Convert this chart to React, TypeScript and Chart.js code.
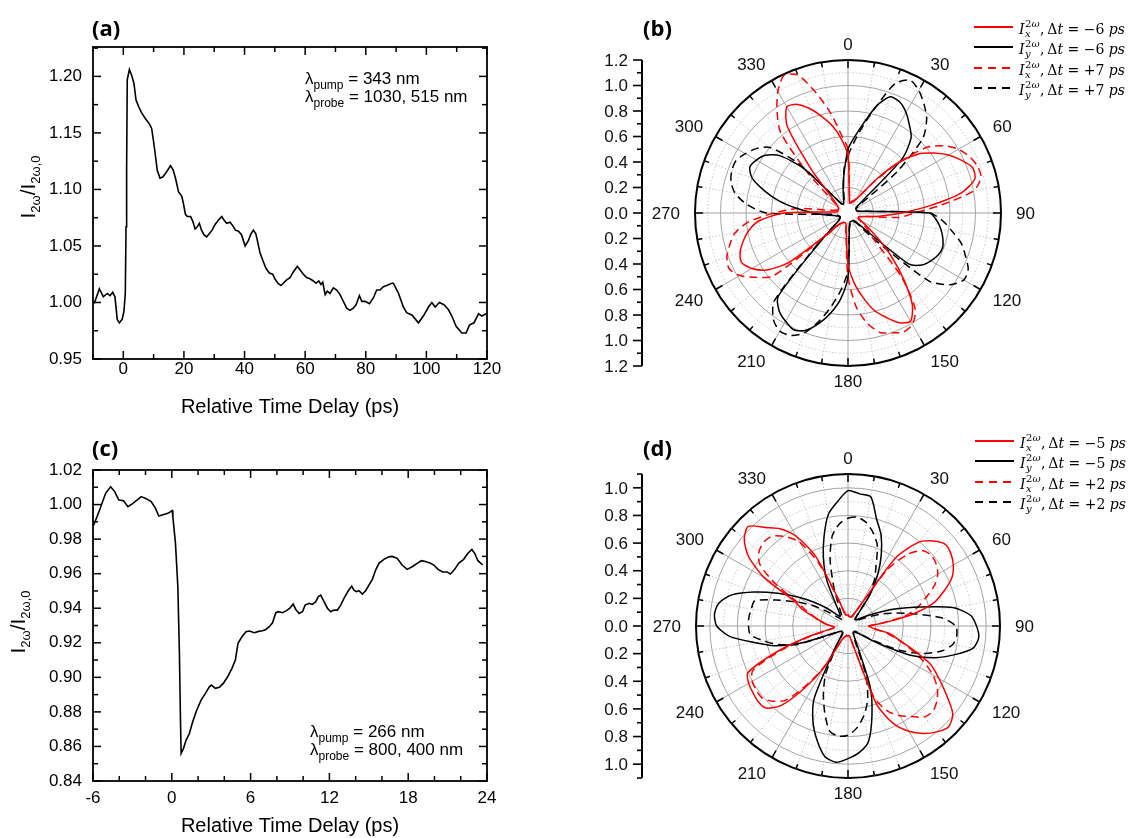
import React, { useEffect, useRef } from 'react';
import { Chart, registerables } from 'chart.js';

Chart.register(...registerables);

const SANS = '"Liberation Sans", Arial, sans-serif';
const SERIF = '"DejaVu Serif", serif';
const BOLD = '"Open Sans", "Noto Sans", sans-serif';

// ---------------- Panel (a) data ----------------
const timeA = [
  -9.6, -7.9, -6.6, -5.3, -4.4, -3.5, -2.75, -2.0, -1.3, -0.4, 0.2, 0.66, 0.9, 1.1, 1.3, 2.0, 2.75, 3.5, 4.2, 5.1,
  6.0, 7.2, 8.6, 9.35, 9.9, 10.5, 11.2, 12.1, 13.0, 13.9, 14.6, 15.6, 16.5, 17.3, 18.2, 19.3, 19.8, 20.5, 21.1, 22.2,
  22.9, 23.7, 24.4, 25.1, 25.8, 26.6, 27.5, 28.4, 29.3, 30.3, 31.4, 32.5, 33.2, 34.1, 35.2, 36.1, 37.0, 38.0, 39.0, 40.2,
  41.3, 42.0, 42.9, 43.7, 44.3, 45.1, 46.2, 47.1, 48.2, 49.3, 50.0, 51.0, 52.0, 52.8, 53.9, 55.0, 56.1, 57.4, 58.3, 59.4,
  60.5, 61.6, 62.7, 63.6, 64.5, 65.2, 65.8, 66.6, 67.3, 68.2, 69.3, 70.4, 71.5, 72.6, 73.7, 74.8, 75.9, 76.8, 77.9, 78.7,
  79.8, 81.2, 82.5, 83.6, 84.7, 85.8, 86.9, 88.6, 89.1, 90.8, 92.4, 93.5, 95.2, 97.4, 99.0, 100.7, 101.8, 102.9, 104.3, 105.8,
  107.3, 108.4, 109.8, 111.7, 113.1, 114.2, 115.7, 117.2, 118.3, 119.7,
];
const ratioA = [
  0.999, 1.012, 1.005, 1.008, 1.006, 1.009, 1.005, 0.985, 0.982, 0.985, 0.992, 1.008, 1.067, 1.12, 1.197, 1.206, 1.201, 1.194, 1.179, 1.173,
  1.168, 1.163, 1.158, 1.154, 1.144, 1.132, 1.117, 1.110, 1.111, 1.114, 1.117, 1.121, 1.117, 1.109, 1.098, 1.094, 1.088, 1.078, 1.076, 1.076,
  1.072, 1.065, 1.067, 1.070, 1.064, 1.060, 1.058, 1.061, 1.064, 1.069, 1.073, 1.076, 1.073, 1.070, 1.071, 1.068, 1.064, 1.063, 1.060, 1.050,
  1.055, 1.060, 1.064, 1.061, 1.054, 1.044, 1.036, 1.030, 1.026, 1.025, 1.021, 1.017, 1.015, 1.017, 1.020, 1.022, 1.027, 1.032, 1.029, 1.025,
  1.022, 1.021, 1.019, 1.017, 1.019, 1.016, 1.018, 1.007, 1.010, 1.008, 1.013, 1.011, 1.007, 1.001, 0.995, 0.993, 0.995, 0.998, 1.006, 1.001,
  1.001, 0.999, 1.004, 1.011, 1.011, 1.014, 1.015, 1.017, 1.017, 1.008, 0.996, 0.991, 0.989, 0.982, 0.988, 0.996, 1.000, 0.996, 1.000, 0.998,
  0.9935, 0.988, 0.979, 0.973, 0.973, 0.980, 0.982, 0.990, 0.988, 0.990,
];
const xTicksA = [0, 20, 40, 60, 80, 100, 120];
const yTicksA = [0.95, 1.0, 1.05, 1.1, 1.15, 1.2];

// ---------------- Panel (c) data ----------------
const timeC = [
  -5.95, -5.49, -5.04, -4.66, -4.35, -4.03, -3.67, -3.34, -2.96, -2.33, -1.95, -1.57, -1.24, -0.99, -0.61, -0.3, 0.03, 0.08, 0.28, 0.46,
  0.58, 0.66, 0.71, 0.89, 1.09, 1.34, 1.59, 1.9, 2.23, 2.56, 2.86, 3.01, 3.32, 3.62, 3.92, 4.25, 4.58, 4.84, 5.04, 5.34,
  5.65, 5.9, 6.28, 6.61, 6.91, 7.16, 7.42, 7.67, 7.92, 8.13, 8.43, 8.73, 8.99, 9.24, 9.44, 9.7, 9.95, 10.15, 10.46, 10.71,
  10.96, 11.16, 11.34, 11.59, 11.85, 12.1, 12.35, 12.61, 12.86, 13.11, 13.44, 13.7, 13.87, 14.05, 14.25, 14.51, 14.76, 15.01, 15.27, 15.52,
  15.77, 16.15, 16.53, 16.78, 17.16, 17.54, 17.92, 18.3, 18.68, 19.01, 19.31, 19.7, 19.95, 20.27, 20.63, 20.95, 21.21, 21.54, 21.84, 22.22,
  22.55, 22.85, 23.06, 23.31, 23.67,
];
const ratioC = [
  0.988, 0.997, 1.0065, 1.0103, 1.0075, 1.0026, 1.0022, 0.9988, 1.0007, 1.0046, 1.0034, 1.0017, 0.9978, 0.9934, 0.9943, 0.9949, 0.9965, 0.993, 0.9775, 0.9525,
  0.914, 0.8753, 0.856, 0.8589, 0.8637, 0.8675, 0.8743, 0.881, 0.8868, 0.8907, 0.8945, 0.8955, 0.8936, 0.8942, 0.8965, 0.9003, 0.9052, 0.91, 0.9197, 0.9235,
  0.9264, 0.9268, 0.9258, 0.9266, 0.927, 0.9277, 0.9293, 0.9316, 0.9374, 0.938, 0.9374, 0.9386, 0.94, 0.9424, 0.9393, 0.937, 0.938, 0.9418, 0.9428, 0.9422,
  0.9438, 0.9467, 0.9476, 0.9438, 0.94, 0.938, 0.9389, 0.9389, 0.9418, 0.9457, 0.9501, 0.9528, 0.9505, 0.9496, 0.9501, 0.9482, 0.9501, 0.9534, 0.9567, 0.9621,
  0.966, 0.9683, 0.9698, 0.97, 0.9689, 0.965, 0.9625, 0.964, 0.966, 0.9675, 0.967, 0.966, 0.965, 0.9625, 0.961, 0.961, 0.9598, 0.9625, 0.966, 0.9683,
  0.9718, 0.974, 0.9718, 0.9675, 0.965,
];
const xTicksC = [-6, 0, 6, 12, 18, 24];
const yTicksC = [0.84, 0.86, 0.88, 0.9, 0.92, 0.94, 0.96, 0.98, 1.0, 1.02];

// ---------------- Polar data (angles in degrees, clockwise from top) ----------------
const ANGLES = [
  0, 5, 10, 15, 20, 25, 30, 35, 40, 45, 50, 55, 60, 65, 70, 75, 80, 85, 90, 95, 100, 105, 110, 115,
  120, 125, 130, 135, 140, 145, 150, 155, 160, 165, 170, 175, 180, 185, 190, 195, 200, 205, 210, 215, 220, 225, 230, 235,
  240, 245, 250, 255, 260, 265, 270, 275, 280, 285, 290, 295, 300, 305, 310, 315, 320, 325, 330, 335, 340, 345, 350, 355,
];
const angleLabels = [0, 30, 60, 90, 120, 150, 180, 210, 240, 270, 300, 330];

// (b) I_x, dt = -6 ps
const rxB_m6 = [
  0.45, 0.12, 0.08, 0.08, 0.09, 0.10, 0.12, 0.17, 0.34, 0.56, 0.72, 0.82,
  0.91, 0.98, 1.04, 1.03, 0.90, 0.64, 0.42, 0.26, 0.16, 0.11, 0.09, 0.09,
  0.11, 0.18, 0.30, 0.48, 0.68, 0.88, 0.98, 0.95, 0.87, 0.79, 0.67, 0.55,
  0.40, 0.16, 0.09, 0.08, 0.08, 0.08, 0.09, 0.10, 0.13, 0.25, 0.60, 0.78,
  0.87, 0.92, 0.90, 0.85, 0.79, 0.70, 0.50, 0.10, 0.08, 0.08, 0.08, 0.08,
  0.09, 0.10, 0.13, 0.20, 0.45, 0.83, 0.96, 0.94, 0.87, 0.78, 0.69, 0.58,
];
// (b) I_y, dt = -6 ps
const ryB_m6 = [
  0.50, 0.60, 0.72, 0.87, 0.97, 0.96, 0.91, 0.84, 0.77, 0.60, 0.15, 0.08,
  0.07, 0.07, 0.07, 0.07, 0.08, 0.15, 0.64, 0.70, 0.74, 0.77, 0.79, 0.78,
  0.75, 0.71, 0.62, 0.15, 0.08, 0.07, 0.07, 0.07, 0.07, 0.07, 0.08, 0.12,
  0.50, 0.68, 0.80, 0.90, 0.98, 1.01, 0.98, 0.94, 0.85, 0.25, 0.10, 0.08,
  0.07, 0.07, 0.07, 0.09, 0.11, 0.17, 0.27, 0.40, 0.55, 0.68, 0.80, 0.85,
  0.83, 0.79, 0.70, 0.50, 0.15, 0.09, 0.08, 0.08, 0.10, 0.14, 0.22, 0.33,
];
// (b) I_x, dt = +7 ps
const rxB_p7 = [
  0.50, 0.14, 0.09, 0.09, 0.10, 0.11, 0.13, 0.18, 0.32, 0.55, 0.80, 0.92,
  1.00, 1.05, 1.08, 1.08, 1.00, 0.74, 0.52, 0.40, 0.16, 0.10, 0.09, 0.09,
  0.10, 0.13, 0.20, 0.27, 0.65, 0.92, 1.01, 1.03, 1.00, 0.97, 0.88, 0.74,
  0.50, 0.18, 0.10, 0.08, 0.08, 0.08, 0.09, 0.10, 0.14, 0.30, 0.77, 0.88,
  0.98, 1.03, 1.01, 0.96, 0.90, 0.78, 0.58, 0.40, 0.12, 0.09, 0.09, 0.10,
  0.10, 0.11, 0.18, 0.45, 0.82, 0.97, 1.10, 1.19, 1.15, 0.98, 0.80, 0.62,
];
// (b) I_y, dt = +7 ps
const ryB_p7 = [
  0.45, 0.56, 0.70, 0.87, 1.08, 1.15, 1.11, 1.04, 0.96, 0.83, 0.50, 0.12,
  0.08, 0.07, 0.07, 0.07, 0.08, 0.15, 0.64, 0.75, 0.83, 0.92, 0.98, 1.04,
  1.05, 0.98, 0.83, 0.30, 0.10, 0.08, 0.07, 0.07, 0.07, 0.08, 0.09, 0.12,
  0.45, 0.60, 0.74, 0.88, 1.00, 1.06, 1.07, 1.02, 0.90, 0.30, 0.10, 0.08,
  0.07, 0.07, 0.08, 0.08, 0.09, 0.12, 0.64, 0.80, 0.90, 0.95, 0.97, 0.97,
  0.93, 0.88, 0.80, 0.55, 0.15, 0.09, 0.08, 0.08, 0.09, 0.12, 0.20, 0.35,
];
// (d) I_x, dt = -5 ps
const rxD_m5 = [
  0.08, 0.07, 0.07, 0.07, 0.07, 0.09, 0.15, 0.60, 0.79, 0.87, 0.92, 0.91,
  0.88, 0.83, 0.74, 0.64, 0.46, 0.26, 0.16, 0.18, 0.30, 0.38, 0.50, 0.66,
  0.76, 0.87, 0.99, 1.03, 1.00, 0.95, 0.88, 0.78, 0.60, 0.15, 0.08, 0.07,
  0.07, 0.07, 0.07, 0.08, 0.09, 0.12, 0.35, 0.55, 0.75, 0.84, 0.85, 0.84,
  0.83, 0.80, 0.55, 0.30, 0.13, 0.10, 0.12, 0.16, 0.20, 0.26, 0.35, 0.43,
  0.70, 0.88, 0.98, 1.02, 0.93, 0.86, 0.75, 0.56, 0.22, 0.10, 0.08, 0.08,
];
// (d) I_y, dt = -5 ps
const ryD_m5 = [
  0.98, 0.96, 0.95, 0.80, 0.70, 0.57, 0.43, 0.28, 0.11, 0.08, 0.07, 0.08,
  0.13, 0.22, 0.36, 0.53, 0.77, 0.89, 0.93, 0.95, 0.92, 0.80, 0.67, 0.50,
  0.25, 0.10, 0.07, 0.06, 0.06, 0.07, 0.09, 0.17, 0.47, 0.67, 0.85, 0.92,
  0.96, 0.99, 0.96, 0.86, 0.74, 0.58, 0.20, 0.08, 0.06, 0.06, 0.06, 0.07,
  0.09, 0.15, 0.36, 0.55, 0.69, 0.86, 0.95, 0.97, 0.95, 0.87, 0.72, 0.56,
  0.42, 0.30, 0.20, 0.12, 0.09, 0.10, 0.16, 0.36, 0.52, 0.67, 0.82, 0.90,
];
// (d) I_x, dt = +2 ps
const rxD_p2 = [
  0.08, 0.07, 0.07, 0.07, 0.07, 0.09, 0.15, 0.50, 0.68, 0.77, 0.79, 0.78,
  0.75, 0.69, 0.60, 0.52, 0.42, 0.25, 0.15, 0.17, 0.28, 0.37, 0.48, 0.60,
  0.71, 0.79, 0.84, 0.87, 0.86, 0.80, 0.75, 0.68, 0.55, 0.15, 0.08, 0.07,
  0.07, 0.07, 0.07, 0.08, 0.09, 0.12, 0.33, 0.52, 0.70, 0.77, 0.81, 0.81,
  0.80, 0.76, 0.52, 0.28, 0.12, 0.10, 0.12, 0.16, 0.20, 0.25, 0.32, 0.40,
  0.60, 0.78, 0.84, 0.86, 0.85, 0.79, 0.70, 0.50, 0.20, 0.10, 0.08, 0.08,
];
// (d) I_y, dt = +2 ps
const ryD_p2 = [
  0.78, 0.79, 0.76, 0.70, 0.62, 0.48, 0.38, 0.25, 0.11, 0.07, 0.06, 0.07,
  0.09, 0.15, 0.25, 0.36, 0.50, 0.68, 0.78, 0.79, 0.77, 0.70, 0.58, 0.42,
  0.20, 0.08, 0.06, 0.06, 0.06, 0.07, 0.08, 0.12, 0.38, 0.55, 0.66, 0.74,
  0.79, 0.80, 0.77, 0.65, 0.52, 0.38, 0.15, 0.07, 0.06, 0.06, 0.06, 0.07,
  0.09, 0.15, 0.39, 0.52, 0.62, 0.71, 0.72, 0.72, 0.71, 0.70, 0.55, 0.41,
  0.30, 0.18, 0.10, 0.07, 0.06, 0.07, 0.09, 0.15, 0.30, 0.50, 0.66, 0.74,
];
const barTicksB = [0, 0.2, 0.4, 0.6, 0.8, 1.0, 1.2];
const barTicksD = [0, 0.2, 0.4, 0.6, 0.8, 1.0];

// ---------------- drawing helpers ----------------
type Part = { t: string; font: string; dy?: number };

function drawParts(ctx: any, x: number, y: number, parts: Part[], align: 'left' | 'center' = 'left') {
  let w = 0;
  parts.forEach((p) => { ctx.font = p.font; w += ctx.measureText(p.t).width; });
  let cx = align === 'center' ? x - w / 2 : x;
  ctx.textAlign = 'left';
  ctx.textBaseline = 'alphabetic';
  parts.forEach((p) => { ctx.font = p.font; ctx.fillText(p.t, cx, y + (p.dy || 0)); cx += ctx.measureText(p.t).width; });
}

function line(ctx: any, x1: number, y1: number, x2: number, y2: number) {
  ctx.beginPath(); ctx.moveTo(x1, y1); ctx.lineTo(x2, y2); ctx.stroke();
}

function isMultiple(v: number, step: number) {
  const q = v / step;
  return Math.abs(q - Math.round(q)) < 1e-6;
}

// ---------------- cartesian panels ----------------
function cartesianDecor(c: any) {
  return {
    id: 'cartDecor',
    afterDraw(chart: any) {
      const { ctx, chartArea: a } = chart;
      const xs = chart.scales.x;
      const ys = chart.scales.y;
      ctx.save();
      ctx.strokeStyle = '#000';
      ctx.lineWidth = 1.8;
      ctx.strokeRect(a.left, a.top, a.right - a.left, a.bottom - a.top);
      ctx.lineWidth = 1.5;
      const nx = Math.round((c.xMax - c.xMin) / c.xMinor);
      for (let i = 0; i <= nx; i++) {
        const v = c.xMin + i * c.xMinor;
        const L = isMultiple(v, c.xMajor) ? 8 : 5;
        const px = xs.getPixelForValue(v);
        line(ctx, px, a.bottom, px, a.bottom - L);
        line(ctx, px, a.top, px, a.top + L);
      }
      const ny = Math.floor((c.yMax - c.yMin) / c.yMinor + 1e-6);
      for (let i = 0; i <= ny; i++) {
        const v = c.yMin + i * c.yMinor;
        const L = isMultiple(v, c.yMajor) ? 8 : 5;
        const py = ys.getPixelForValue(v);
        line(ctx, a.left, py, a.left + L, py);
        line(ctx, a.right, py, a.right - L, py);
      }
      ctx.fillStyle = '#000';
      // panel label
      ctx.font = `bold 22px ${BOLD}`;
      ctx.textAlign = 'left';
      ctx.textBaseline = 'alphabetic';
      ctx.fillText(c.panel, c.panelX, c.panelY);
      // x title
      drawParts(ctx, c.xTitleX, c.xTitleY, [{ t: 'Relative Time Delay (ps)', font: `20px ${SANS}` }], 'center');
      // y title (rotated, with subscripts)
      ctx.save();
      ctx.translate(c.yTitleX, c.yTitleY);
      ctx.rotate(-Math.PI / 2);
      drawParts(ctx, 0, 0, [
        { t: 'I', font: `21px ${SANS}` },
        { t: '2ω', font: `13px ${SANS}`, dy: 5 },
        { t: '/', font: `21px ${SANS}` },
        { t: 'I', font: `21px ${SANS}` },
        { t: '2ω,0', font: `13px ${SANS}`, dy: 5 },
      ], 'center');
      ctx.restore();
      // annotation
      c.notes.forEach((n: any) => {
        drawParts(ctx, n.x, n.y, [
          { t: 'λ', font: `17px ${SANS}` },
          { t: n.sub, font: `12px ${SANS}`, dy: 5 },
          { t: n.rest, font: `17px ${SANS}` },
        ]);
      });
      ctx.restore();
    },
  };
}

function makeLineConfig(c: any) {
  const pts = c.xs.map((x: number, i: number) => ({ x, y: c.ys[i] }));
  const tickFont = { family: SANS, size: 17 };
  return {
    type: 'scatter',
    data: {
      datasets: [{
        data: pts, showLine: true, borderColor: '#000', borderWidth: 1.6,
        pointRadius: 0, pointHoverRadius: 0, fill: false, tension: 0,
      }],
    },
    options: {
      responsive: false,
      animation: false,
      events: [],
      layout: { padding: { left: 0, top: c.padTop, right: c.padRight, bottom: 0 } },
      plugins: { legend: { display: false }, tooltip: { enabled: false } },
      scales: {
        x: {
          type: 'linear', bounds: 'data', min: c.xMin, max: c.xMax,
          afterBuildTicks: (s: any) => { s.ticks = c.xTicks.map((v: number) => ({ value: v })); },
          afterFit: (s: any) => { s.height = c.xAxisH; },
          grid: { display: false, drawTicks: false },
          border: { display: false },
          ticks: {
            padding: c.xTickPad, autoSkip: false, maxRotation: 0, minRotation: 0,
            color: '#000', font: tickFont, callback: (v: any) => String(v),
          },
        },
        y: {
          type: 'linear', bounds: 'data', min: c.yMin, max: c.yMax,
          afterBuildTicks: (s: any) => { s.ticks = c.yTicks.map((v: number) => ({ value: v })); },
          afterFit: (s: any) => { s.width = c.yAxisW; },
          grid: { display: false, drawTicks: false },
          border: { display: false },
          ticks: {
            padding: 11, autoSkip: false, color: '#000', font: tickFont,
            callback: (v: any) => Number(v).toFixed(2),
          },
        },
      },
    },
    plugins: [cartesianDecor(c)],
  };
}

const panelA = () => makeLineConfig({
  xs: timeA, ys: ratioA, xTicks: xTicksA, yTicks: yTicksA,
  xMin: -10, xMax: 120, xMinor: 10, xMajor: 20,
  yMin: 0.95, yMax: 1.226, yMinor: 0.025, yMajor: 0.05,
  padTop: 47, padRight: 78, xAxisH: 60, yAxisW: 93, xTickPad: 0,
  panel: '(a)', panelX: 92, panelY: 36,
  xTitleX: 290, xTitleY: 413, yTitleX: 35, yTitleY: 187,
  notes: [
    { x: 305, y: 84, sub: 'pump', rest: ' = 343 nm' },
    { x: 305, y: 102, sub: 'probe', rest: ' = 1030, 515 nm' },
  ],
});

const panelC = () => makeLineConfig({
  xs: timeC, ys: ratioC, xTicks: xTicksC, yTicks: yTicksC,
  xMin: -6, xMax: 24, xMinor: 2, xMajor: 6,
  yMin: 0.84, yMax: 1.02, yMinor: 0.01, yMajor: 0.02,
  padTop: 51, padRight: 78, xAxisH: 57, yAxisW: 93, xTickPad: 7,
  panel: '(c)', panelX: 92, panelY: 37,
  xTitleX: 290, xTitleY: 413, yTitleX: 25, yTitleY: 203,
  notes: [
    { x: 310, y: 318, sub: 'pump', rest: ' = 266 nm' },
    { x: 310, y: 336, sub: 'probe', rest: ' = 800, 400 nm' },
  ],
});

// ---------------- polar panels ----------------
function drawLegendRow(ctx: any, row: any, L: any) {
  ctx.save();
  ctx.strokeStyle = row.color;
  ctx.lineWidth = 1.8;
  ctx.setLineDash(row.dashed ? [8, 6] : []);
  line(ctx, L.x0, row.y, L.x1, row.y);
  ctx.restore();
  ctx.fillStyle = '#000';
  ctx.textAlign = 'left';
  ctx.textBaseline = 'alphabetic';
  const by = row.y + 6.5;
  const it = `italic 14px ${SERIF}`;
  const up = `14px ${SERIF}`;
  const sIt = `italic 10px ${SERIF}`;
  const sUp = `10px ${SERIF}`;
  let x = L.tx;
  ctx.font = it; ctx.fillText('I', x, by); x += ctx.measureText('I').width + 0.5;
  ctx.font = sUp; ctx.fillText('2', x, by - 6.5); let ws = ctx.measureText('2').width;
  ctx.font = sIt; ctx.fillText('ω', x + ws, by - 6.5); ws += ctx.measureText('ω').width;
  ctx.font = sIt; ctx.fillText(row.sub, x, by + 3.5); const wb = ctx.measureText(row.sub).width;
  x += Math.max(ws, wb) + 0.5;
  drawParts(ctx, x, by, [
    { t: ',', font: up },
    { t: '\u2009Δ', font: up },
    { t: 't', font: it },
    { t: ' = ', font: up },
    { t: row.dt, font: up },
    { t: ' ', font: up },
    { t: 'ps', font: it },
  ]);
}

function polarDecor(p: any) {
  return {
    id: 'polarDecor',
    beforeDatasetsDraw(chart: any) {
      const s = chart.scales.r;
      const ctx = chart.ctx;
      const R = s.getDistanceFromCenterForValue(p.max);
      ctx.save();
      ctx.fillStyle = '#fff';
      ctx.beginPath(); ctx.arc(s.xCenter, s.yCenter, 9, 0, Math.PI * 2); ctx.fill();
      ctx.strokeStyle = '#000';
      ctx.lineWidth = 1.5;
      for (let a = 0; a < 360; a += 10) {
        const L = a % 30 === 0 ? 8 : 5;
        const rad = (a * Math.PI) / 180;
        const sx = Math.sin(rad);
        const cy = -Math.cos(rad);
        line(ctx, s.xCenter + sx * R, s.yCenter + cy * R, s.xCenter + sx * (R - L), s.yCenter + cy * (R - L));
      }
      ctx.restore();
    },
    afterDraw(chart: any) {
      const s = chart.scales.r;
      const ctx = chart.ctx;
      const R = s.getDistanceFromCenterForValue(p.max);
      ctx.save();
      ctx.fillStyle = '#111';
      ctx.font = `17px ${SANS}`;
      ctx.textBaseline = 'middle';
      ctx.textAlign = 'center';
      angleLabels.forEach((a) => {
        const rad = (a * Math.PI) / 180;
        const sn = Math.sin(rad);
        const cs = Math.cos(rad);
        const gap = 9 + 6 * Math.abs(sn);
        const ax = s.xCenter + sn * (R + gap);
        const ay = s.yCenter - cs * (R + gap);
        const txt = String(a);
        const w = ctx.measureText(txt).width;
        const cx = Math.abs(sn) < 0.01 ? ax : ax + Math.sign(sn) * w / 2;
        const cy = ay - cs * 6.5;
        ctx.fillText(txt, cx, cy + 1);
      });
      // left radial bar
      const bx = s.xCenter - 206;
      ctx.strokeStyle = '#000';
      ctx.lineWidth = 2;
      line(ctx, bx, s.yCenter - R, bx, s.yCenter + R);
      ctx.lineWidth = 1.6;
      const n = Math.round(p.max * 10);
      for (let i = 0; i <= n; i++) {
        const v = i / 10;
        const d = s.getDistanceFromCenterForValue(v);
        const L = i % 2 === 0 ? 9 : 5;
        line(ctx, bx, s.yCenter - d, bx - L, s.yCenter - d);
        if (i > 0) line(ctx, bx, s.yCenter + d, bx - L, s.yCenter + d);
      }
      ctx.textAlign = 'right';
      p.barTicks.forEach((v: number) => {
        const d = s.getDistanceFromCenterForValue(v);
        ctx.fillText(v.toFixed(1), bx - 14, s.yCenter - d + 1);
        if (v > 0) ctx.fillText(v.toFixed(1), bx - 14, s.yCenter + d + 1);
      });
      // panel label
      ctx.fillStyle = '#000';
      ctx.font = `bold 22px ${BOLD}`;
      ctx.textAlign = 'left';
      ctx.textBaseline = 'alphabetic';
      ctx.fillText(p.panel, p.panelX, p.panelY);
      // legend
      p.legend.rows.forEach((row: any) => drawLegendRow(ctx, row, p.legend));
      ctx.restore();
    },
  };
}

function makePolarConfig(p: any) {
  const isMax = (v: number) => Math.abs(v - p.max) < 1e-6;
  return {
    type: 'radar',
    data: {
      labels: ANGLES.map(String),
      datasets: p.series.map((sr: any) => ({
        label: sr.name,
        data: sr.r,
        borderColor: sr.color,
        backgroundColor: 'rgba(0,0,0,0)',
        borderWidth: 1.5,
        borderDash: sr.dashed ? [8, 5] : [],
        borderJoinStyle: 'round',
        pointRadius: 0,
        pointHoverRadius: 0,
        fill: false,
        tension: 0.25,
      })),
    },
    options: {
      responsive: false,
      animation: false,
      events: [],
      layout: { padding: p.pad },
      plugins: { legend: { display: false }, tooltip: { enabled: false } },
      scales: {
        r: {
          min: 0,
          max: p.max,
          startAngle: 0,
          ticks: { display: false, stepSize: 0.1 },
          pointLabels: { display: false },
          grid: {
            circular: true,
            color: (c: any) => {
              const v = c.tick ? c.tick.value : 0;
              if (isMax(v)) return '#000';
              return Math.round(v * 10) % 2 === 0 ? '#a3a3a3' : '#c4c4c4';
            },
            lineWidth: (c: any) => (c.tick && isMax(c.tick.value) ? 2 : 1),
          },
          border: {
            dash: (c: any) => {
              const v = c.tick ? c.tick.value : 0;
              return isMax(v) || Math.round(v * 10) % 2 === 0 ? [] : [1.5, 2];
            },
          },
          angleLines: {
            color: (c: any) => (c.index % 6 === 0 ? '#a3a3a3' : c.index % 2 === 0 ? '#c4c4c4' : 'rgba(0,0,0,0)'),
            lineWidth: (c: any) => (c.index % 2 === 0 ? 1 : 0),
            borderDash: (c: any) => (c.index % 6 === 0 ? [] : [1.5, 2]),
          },
        },
      },
    },
    plugins: [polarDecor(p)],
  };
}

const panelB = () => makePolarConfig({
  max: 1.2,
  pad: { left: 115, right: 129, top: 60, bottom: 53 },
  barTicks: barTicksB,
  panel: '(b)', panelX: 63, panelY: 36,
  series: [
    { name: 'Ix -6', r: rxB_m6, color: '#ff0000', dashed: false },
    { name: 'Iy -6', r: ryB_m6, color: '#000000', dashed: false },
    { name: 'Ix +7', r: rxB_p7, color: '#ff0000', dashed: true },
    { name: 'Iy +7', r: ryB_p7, color: '#000000', dashed: true },
  ],
  legend: {
    x0: 394, x1: 433, tx: 439,
    rows: [
      { y: 27, color: '#ff0000', dashed: false, sub: 'x', dt: '\u22126' },
      { y: 47, color: '#000000', dashed: false, sub: 'y', dt: '\u22126' },
      { y: 68, color: '#ff0000', dashed: true, sub: 'x', dt: '+7' },
      { y: 88, color: '#000000', dashed: true, sub: 'y', dt: '+7' },
    ],
  },
});

const panelD = () => makePolarConfig({
  max: 1.1,
  pad: { left: 116, right: 130, top: 55, bottom: 60 },
  barTicks: barTicksD,
  panel: '(d)', panelX: 63, panelY: 37,
  series: [
    { name: 'Ix -5', r: rxD_m5, color: '#ff0000', dashed: false },
    { name: 'Iy -5', r: ryD_m5, color: '#000000', dashed: false },
    { name: 'Ix +2', r: rxD_p2, color: '#ff0000', dashed: true },
    { name: 'Iy +2', r: ryD_p2, color: '#000000', dashed: true },
  ],
  legend: {
    x0: 395, x1: 434, tx: 440,
    rows: [
      { y: 22, color: '#ff0000', dashed: false, sub: 'x', dt: '\u22125' },
      { y: 42, color: '#000000', dashed: false, sub: 'y', dt: '\u22125' },
      { y: 63, color: '#ff0000', dashed: true, sub: 'x', dt: '+2' },
      { y: 83, color: '#000000', dashed: true, sub: 'y', dt: '+2' },
    ],
  },
});

function ChartBox({ make, left, top, width, height }: any) {
  const ref = useRef<HTMLCanvasElement>(null);
  useEffect(() => {
    const chart = new Chart(ref.current as HTMLCanvasElement, make());
    return () => chart.destroy();
  }, []);
  return (
    <canvas
      ref={ref}
      width={width}
      height={height}
      style={{ position: 'absolute', left, top, width, height }}
    />
  );
}

export default function App() {
  return (
    <div style={{ position: 'fixed', left: 0, top: 0, width: 1130, height: 838, background: '#fff', overflow: 'hidden' }}>
      <ChartBox make={panelA} left={0} top={0} width={565} height={419} />
      <ChartBox make={panelC} left={0} top={419} width={565} height={419} />
      <ChartBox make={panelB} left={580} top={0} width={550} height={419} />
      <ChartBox make={panelD} left={580} top={419} width={550} height={419} />
    </div>
  );
}
